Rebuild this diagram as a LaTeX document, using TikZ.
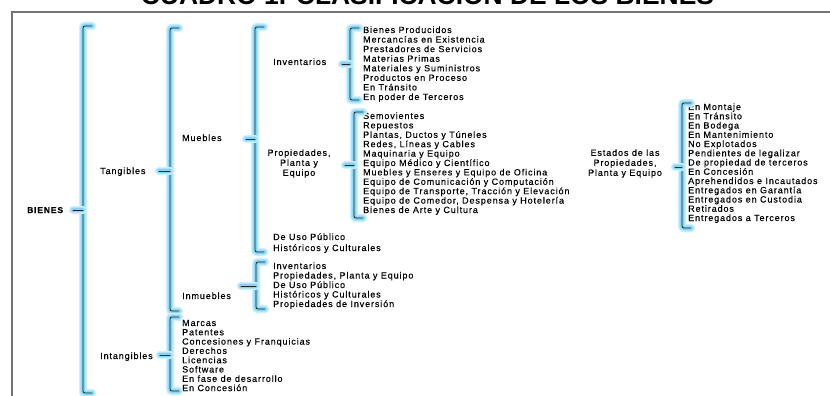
\documentclass[tikz,border=0pt]{standalone}
\usepackage{fontspec}
\setmainfont{Liberation Sans}
\newfontfamily\itemfont{Liberation Sans}[LetterSpace=10,FakeBold=0.35]
\usetikzlibrary{calc}
\tikzset{
  itm/.style={anchor=base west, inner sep=0pt, font=\itemfont\fontsize{9}{10}\selectfont},
  lbl/.style={itm},
  ctr/.style={anchor=center, inner sep=0pt, align=center, font=\itemfont\fontsize{9}{10}\selectfont},
  brk/.style={draw=black!85, line width=0.75pt, line cap=round, rounded corners=2pt,
    preaction={draw=cyan!18, line width=8.5pt, line cap=round},
    preaction={draw=cyan!32, line width=6pt, line cap=round},
    preaction={draw=cyan!50, line width=3.5pt, line cap=round}},
  frame/.style={draw=black!55, line width=1.3pt}
}
\newcommand\mybrak[6]{%
  \coordinate (#1t) at (#2,#3);
  \coordinate (#1b) at (#2,#4);
  \coordinate (#1m) at (#2,#5);
  \coordinate (#1k) at (#6,#5);
  \draw[brk] ($(#1t)+(9,0)$) -- (#1t) -- (#1b) -- ($(#1b)+(9,0)$);
  \draw[brk] (#1k) -- (#1m);
}
\begin{document}
\begin{tikzpicture}[x=1pt,y=-1pt]
\useasboundingbox (0,0) rectangle (830,396);
% frame and title
\coordinate (fa) at (12,410);
\coordinate (fb) at (12,12);
\coordinate (fc) at (845,12);
\draw[frame] (fa) -- (fb) -- (fc);
\node[font=\bfseries\fontsize{26.4}{30}\selectfont, anchor=base, inner sep=0pt] (title) at (427.5,5) {CUADRO 1. CLASIFICACIÓN DE LOS BIENES};

% labels
\node[lbl, font=\itemfont\bfseries\fontsize{8.5}{10}\selectfont] (bienes) at (27,213) {BIENES};
\node[lbl] (tang) at (100,174) {Tangibles};
\node[lbl] (intang) at (100,359) {Intangibles};
\node[lbl] (mueb) at (182,141) {Muebles};
\node[lbl] (inmueb) at (182,299) {Inmuebles};
\node[lbl] (invent) at (273,65) {Inventarios};
\node[ctr] (ppe) at (299,163.5) {Propiedades,\\Planta y\\Equipo};
\node[ctr] (estados) at (625,163.5) {Estados de las\\Propiedades,\\Planta y Equipo};
\node[itm] (uso) at (273,240) {De Uso Público};
\node[itm] (hist) at (273,251) {Históricos y Culturales};

% lists
\foreach \t [count=\i from 0] in {Bienes Producidos, Mercancías en Existencia, Prestadores de Servicios, Materias Primas, Materiales y Suministros, Productos en Proceso, En Tránsito, En poder de Terceros}
  \node[itm] (inv\i) at (363,{33+9.57*\i}) {\t};
\foreach \t [count=\i from 0] in {Semovientes, Repuestos, {Plantas, Ductos y Túneles}, {Redes, Líneas y Cables}, Maquinaria y Equipo, Equipo Médico y Científico, Muebles y Enseres y Equipo de Oficina, Equipo de Comunicación y Computación, {Equipo de Transporte, Tracción y Elevación}, {Equipo de Comedor, Despensa y Hotelería}, Bienes de Arte y Cultura}
  \node[itm] (pp\i) at (363,{119+9.4*\i}) {\t};
\foreach \t [count=\i from 0] in {Inventarios, {Propiedades, Planta y Equipo}, De Uso Público, Históricos y Culturales, Propiedades de Inversión}
  \node[itm] (inm\i) at (273,{269+9.5*\i}) {\t};
\foreach \t [count=\i from 0] in {Marcas, Patentes, Concesiones y Franquicias, Derechos, Licencias, Software, En fase de desarrollo, En Concesión}
  \node[itm] (int\i) at (182,{326+9.3*\i}) {\t};
\foreach \t [count=\i from 0] in {En Montaje, En Tránsito, En Bodega, En Mantenimiento, No Explotados, Pendientes de legalizar, De propiedad de terceros, En Concesión, Aprehendidos e Incautados, Entregados en Garantía, Entregados en Custodia, Retirados, Entregados a Terceros}
  \node[itm] (est\i) at (688,{110+9.25*\i}) {\t};

% brackets
\mybrak{bA}{83}{26}{393}{210}{73}
\mybrak{bB}{170}{28}{311}{171}{159}
\mybrak{bC}{170}{317}{391}{355}{160}
\mybrak{bD}{255}{27}{252}{139}{246}
\mybrak{bE}{256}{262}{309}{286}{241}
\mybrak{bF}{350}{28}{100}{64}{342}
\mybrak{bG}{354}{112}{218}{165}{345}
\mybrak{bH}{682}{103}{228}{167}{675}
\end{tikzpicture}
\end{document}
